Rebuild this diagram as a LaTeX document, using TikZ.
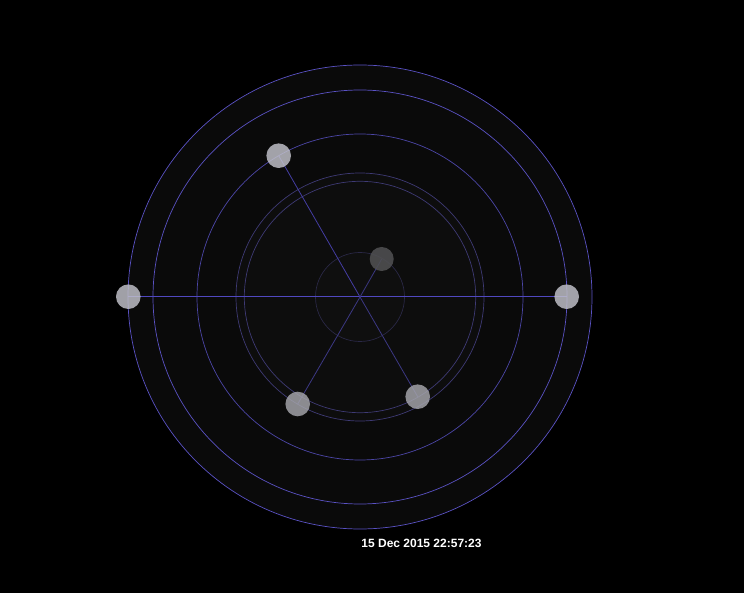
\documentclass[tikz,border=0pt]{standalone}
\usepackage{fontspec}
\setmainfont{Liberation Sans}
\definecolor{orbA}{HTML}{5A52C4}
\definecolor{orbB}{HTML}{3E3A74}
\definecolor{orbC}{HTML}{2A2846}
\definecolor{lineA}{HTML}{5048C0}
\definecolor{lineB}{HTML}{3C3884}
\definecolor{planetL}{HTML}{C4C4CC}
\definecolor{planetD}{HTML}{505052}
\begin{document}
\begin{tikzpicture}[x=1pt,y=-1pt,
  orbit/.style={line width=0.7pt},
  ray/.style={line width=0.8pt},
  planet/.style={circle,minimum size=24.6pt,inner sep=0pt,fill=planetL,fill opacity=0.82},
  dimplanet/.style={circle,minimum size=24pt,inner sep=0pt,fill=planetD,fill opacity=0.88}]
\fill[black] (0,0) rectangle (744,593);
\useasboundingbox (0,0) rectangle (744,593);
\coordinate (sun) at (360,297);
\fill[black!96!white] (sun) circle[radius=232];
\fill[black!95!white] (sun) circle[radius=124];
\fill[black!94!white] (sun) circle[radius=44];
\draw[orbit,orbA] (sun) circle[radius=232];
\draw[orbit,orbA] (sun) circle[radius=207];
\draw[orbit,orbA!85!black] (sun) circle[radius=163];
\draw[orbit,orbB] (sun) circle[radius=124];
\draw[orbit,orbB] (sun) circle[radius=115.7];
\draw[orbit,orbC] (sun) circle[radius=44.5];
\coordinate (cL) at (128.3,296.7);
\coordinate (cR) at (566.7,296.7);
\coordinate (cTL) at (278.7,155.7);
\coordinate (cIn) at (381.7,259);
\coordinate (cBL) at (297.7,404);
\coordinate (cBR) at (417.7,396.7);
\draw[ray,lineA] (cL) -- (cR);
\draw[ray,lineA!85!black] (cTL) -- (sun);
\draw[ray,lineB] (sun) -- (cBR);
\draw[ray,lineB] (sun) -- (cBL);
\draw[ray,lineB] (sun) -- (cIn);
\node[planet] (pL) at (cL) {};
\node[planet] (pR) at (cR) {};
\node[planet] (pTL) at (cTL) {};
\node[dimplanet] (pIn) at (cIn) {};
\node[planet,fill=planetL!85!black] (pBL) at (cBL) {};
\node[planet,fill=planetL!85!black] (pBR) at (cBR) {};
\node[text=white,font=\bfseries\fontsize{12}{14}\selectfont,inner sep=0pt] (date) at (421.5,543) {15 Dec 2015 22:57:23};
\end{tikzpicture}
\end{document}
